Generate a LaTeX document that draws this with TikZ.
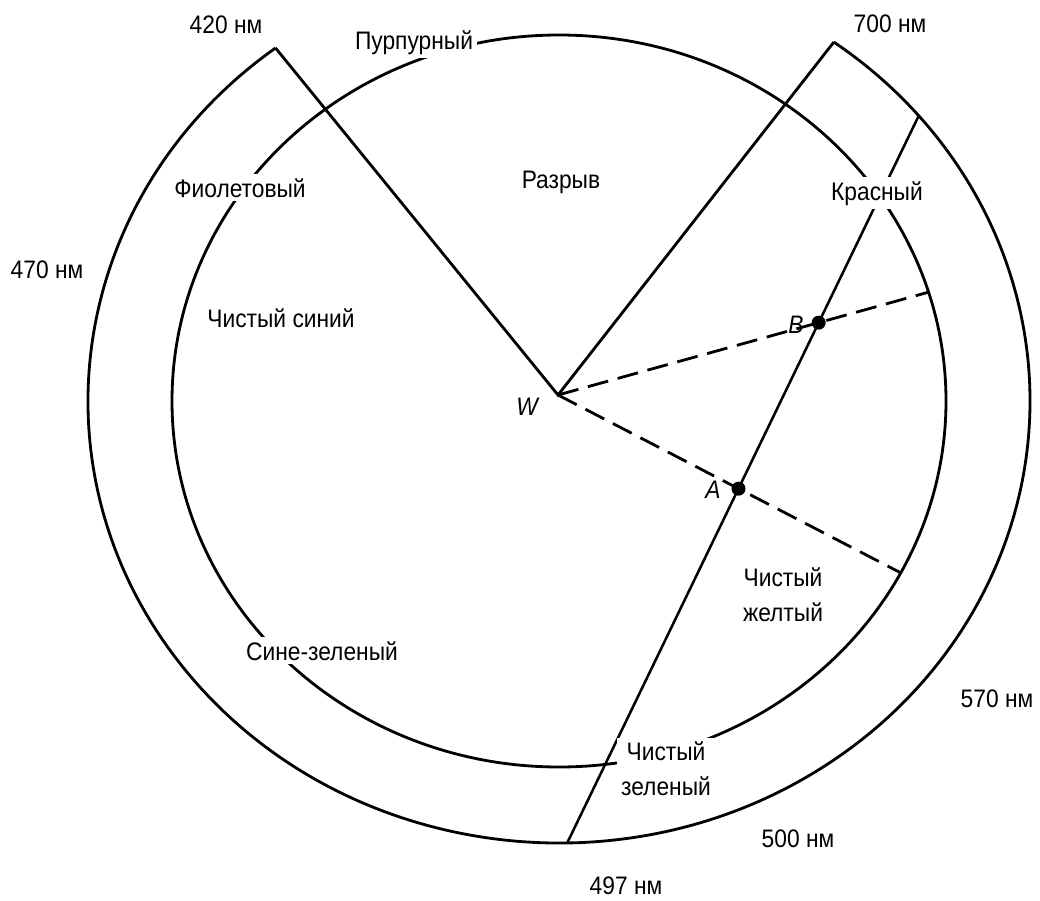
\documentclass[tikz,border=0pt]{standalone}
\usepackage{fontspec}
\setmainfont{Liberation Sans}[FakeStretch=0.9]

\begin{document}
\begin{tikzpicture}[x=0.025cm, y=0.025cm, line width=2pt,
  lbl/.style={font=\fontsize{18}{24.8}\selectfont, inner sep=1pt},
  cutlbl/.style={lbl, fill=white, inner sep=3pt},
  ptlbl/.style={lbl, font=\fontsize{18}{24.8}\selectfont\itshape},
  dashline/.style={dash pattern=on 15pt off 7pt},
  dot/.style={fill=black}]

\useasboundingbox (0,0) rectangle (1040,-901);

% Layout constants
\def\rxo{471}   % outer ring, x radius
\def\ryo{442}   % outer ring, y radius
\def\rxi{387}   % inner locus, x radius
\def\ryi{366}   % inner locus, y radius

\coordinate (C) at (559,-401);
\coordinate (W) at (558,-395);

%% ---- points on the two ellipses ---------------------------
\path (C) ++(127:471 and 442)  coordinate (O420);
\path (C) ++(54.3:471 and 442) coordinate (O700);
\path (C) ++(40.2:471 and 442) coordinate (P1);
\path (C) ++(-89:471 and 442)  coordinate (P2);
\path (C) ++(17.3:387 and 366) coordinate (E1);
\path (C) ++(-28:387 and 366)  coordinate (E2);

%% ---- outer ring (open between 420 and 700 nm) -------------
\draw (O420) arc[start angle=127, end angle=414.3,
                 x radius=\rxo, y radius=\ryo];

%% ---- inner locus -------------------------------------------
\draw (C) ellipse [x radius=\rxi, y radius=\ryi];

% Gap wedge from the white point
\draw (O420) -- (W) -- (O700);

% Line of constant hue through A and B
\draw[line width=1.8pt] (P1) -- (P2);

% Dashed lines from W
\draw[dashline] (W) -- (E1);
\draw[dashline] (W) -- (E2);

\coordinate (A) at (intersection of W--E2 and P1--P2);
\coordinate (B) at (intersection of W--E1 and P1--P2);
\fill[dot] (A) circle (7);
\fill[dot] (B) circle (7);

\node[ptlbl, anchor=base] (Wlbl) at (527,-415) {W};
\node[ptlbl, anchor=base] (Albl) at (713,-498) {A};
\node[ptlbl, anchor=base] (Blbl) at (796,-333) {B};

%% ---- wavelengths -------------------------------------------
\foreach \n/\x/\y in {420/226/33, 700/890/32, 470/47/278,
                      570/997/707, 500/798/847, 497/626/894} {
  \node[lbl, anchor=base] (nm\n) at (\x,-\y) {\n~нм};
}

%% ---- colour names ------------------------------------------
\node[cutlbl, anchor=base] (purple) at (414,-49)  {Пурпурный};
\node[cutlbl, anchor=base] (violet) at (240,-197) {Фиолетовый};
\node[cutlbl, anchor=base] (red)    at (877,-200) {Красный};
\node[cutlbl, anchor=base] (cyan)   at (322,-660) {Сине-зеленый};
\node[cutlbl, align=center] (green) at (666,-769) {Чистый\\зеленый};

\node[lbl, anchor=base] (gap)  at (561,-188) {Разрыв};
\node[lbl, anchor=base] (blue) at (281,-327) {Чистый синий};
\node[lbl, align=center] (yellow) at (783,-595) {Чистый\\желтый};

\end{tikzpicture}
\end{document}
